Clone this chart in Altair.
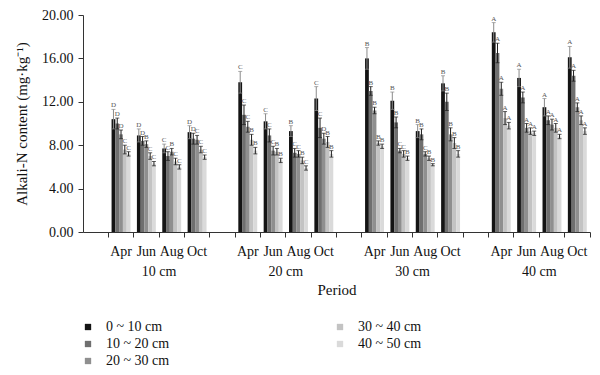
import altair as alt
import pandas as pd

groups = ["10 cm", "20 cm", "30 cm", "40 cm"]
months = ["Apr", "Jun", "Aug", "Oct"]
depths = ["0 ~ 10 cm", "10 ~ 20 cm", "20 ~ 30 cm", "30 ~ 40 cm", "40 ~ 50 cm"]
colors = ["#141414", "#6f6f6f", "#8f8f8f", "#c3c3c3", "#dadada"]

# values listed group by group (10, 20, 30, 40 cm), months Apr, Jun, Aug, Oct
vals_0_10 = [10.4, 8.9, 7.7, 9.2, 13.8, 10.2, 9.3, 12.3, 16.0, 12.1, 9.3, 13.7, 18.4, 14.2, 11.5, 16.1]
vals_10_20 = [10.0, 8.4, 7.0, 8.6, 10.8, 8.9, 7.3, 9.6, 13.0, 10.1, 9.0, 12.0, 16.5, 12.4, 10.3, 14.4]
vals_20_30 = [9.0, 8.1, 7.4, 8.5, 9.7, 7.5, 7.2, 8.6, 11.2, 7.5, 7.2, 9.0, 13.2, 9.6, 9.9, 11.5]
vals_30_40 = [7.6, 7.0, 6.5, 7.6, 8.5, 7.4, 6.6, 8.3, 8.2, 7.2, 6.8, 8.2, 10.5, 9.3, 9.6, 10.3]
vals_40_50 = [7.2, 6.3, 6.0, 6.9, 7.5, 6.6, 5.9, 7.2, 7.9, 6.8, 6.2, 7.2, 9.8, 9.1, 8.8, 9.3]

err_0_10 = [0.9, 0.6, 0.4, 0.6, 1.0, 0.7, 0.5, 1.1, 1.0, 0.8, 0.6, 0.7, 0.9, 0.8, 0.8, 1.0]
err_10_20 = [0.5, 0.4, 0.4, 0.5, 0.9, 0.6, 0.4, 0.9, 0.4, 0.5, 0.5, 0.8, 0.9, 0.5, 0.4, 0.5]
err_20_30 = [0.4, 0.3, 0.3, 0.4, 0.5, 0.4, 0.3, 0.5, 0.3, 0.2, 0.2, 0.6, 0.6, 0.4, 0.5, 0.4]
err_30_40 = [0.4, 0.3, 0.3, 0.3, 0.5, 0.3, 0.3, 0.5, 0.2, 0.3, 0.2, 0.5, 0.6, 0.3, 0.4, 0.4]
err_40_50 = [0.2, 0.2, 0.2, 0.2, 0.3, 0.2, 0.2, 0.3, 0.2, 0.2, 0.1, 0.3, 0.3, 0.2, 0.2, 0.3]

let_0_10 = ["D", "D", "C", "D", "C", "C", "B", "C", "B", "B", "B", "B", "A", "A", "A", "A"]
let_10_20 = ["D", "D", "C", "D", "C", "C", "C", "C", "B", "B", "B", "B", "A", "A", "A", "A"]
let_20_30 = ["D", "B", "B", "C", "C", "C", "C", "D", "B", "C", "C", "B", "A", "A", "A", "A"]
let_30_40 = ["C", "C", "C", "C", "B", "B", "B", "B", "B", "C", "B", "B", "A", "A", "A", "A"]
let_40_50 = ["C", "C", "C", "C", "B", "B", "C", "B", "B", "B", "B", "B", "A", "A", "A", "A"]

all_vals = [vals_0_10, vals_10_20, vals_20_30, vals_30_40, vals_40_50]
all_errs = [err_0_10, err_10_20, err_20_30, err_30_40, err_40_50]
all_lets = [let_0_10, let_10_20, let_20_30, let_30_40, let_40_50]

slots = []
for g in groups:
    slots.append(g + "|gap")
    for m in months:
        slots.append(g + "|" + m)

rows = []
for di, d in enumerate(depths):
    for gi, g in enumerate(groups):
        for mi, m in enumerate(months):
            k = gi * 4 + mi
            v = all_vals[di][k]
            e = all_errs[di][k]
            rows.append({
                "slot": g + "|" + m, "depth": d, "value": v,
                "lo": v - e, "hi": v + e, "letter": all_lets[di][k],
                "ecol": "#8a8a8a" if di == 0 else "#1e1e1e",
            })
df = pd.DataFrame(rows)
glab = pd.DataFrame({"slot": [g + "|Jun" for g in groups], "label": groups})

SERIF = "Liberation Serif"
W, H = 507, 217

xscale = alt.Scale(domain=slots, paddingInner=0, paddingOuter=0)
xoff = alt.XOffset("depth:N", scale=alt.Scale(domain=depths, paddingInner=0, paddingOuter=0.85))
yscale = alt.Scale(domain=[0, 20], nice=False)

x_enc = alt.X(
    "slot:N", scale=xscale, sort=slots,
    axis=alt.Axis(
        title="Period", bandPosition=1, labelAngle=0, labelOverlap=False,
        labelExpr="indexof(datum.value,'gap')>=0 ? '' : substring(datum.value, indexof(datum.value,'|')+1)",
        tickSize=5, labelPadding=7, titlePadding=24,
    ),
)

base = alt.Chart(df)

bars = base.mark_bar().encode(
    x=x_enc,
    xOffset=xoff,
    y=alt.Y("value:Q", scale=yscale,
            axis=alt.Axis(title="Alkali-N content (mg·kg⁻¹)", values=[0, 4, 8, 12, 16, 20],
                          format=".2f", tickSize=5, labelPadding=5, titlePadding=12, grid=False)),
    color=alt.Color("depth:N", scale=alt.Scale(domain=depths, range=colors),
                    legend=alt.Legend(title=None, orient="none", legendX=-2, legendY=305,
                                      columns=2, columnPadding=163, rowPadding=3,
                                      symbolType="square", symbolSize=40, symbolStrokeWidth=0,
                                      labelFont=SERIF, labelFontSize=14, labelOffset=11,
                                      labelColor="#111", padding=0, gridAlign="each")),
)

rules = base.mark_rule(strokeWidth=1).encode(
    x=alt.X("slot:N", scale=xscale, sort=slots),
    xOffset=xoff,
    y=alt.Y("lo:Q", scale=yscale),
    y2="hi:Q",
    stroke=alt.Stroke("ecol:N", scale=None),
)

caps_hi = base.mark_tick(thickness=1, size=4).encode(
    x=alt.X("slot:N", scale=xscale, sort=slots),
    xOffset=xoff,
    y=alt.Y("hi:Q", scale=yscale),
    fill=alt.Fill("ecol:N", scale=None),
)
caps_lo = base.mark_tick(thickness=1, size=4).encode(
    x=alt.X("slot:N", scale=xscale, sort=slots),
    xOffset=xoff,
    y=alt.Y("lo:Q", scale=yscale),
    fill=alt.Fill("ecol:N", scale=None),
)

letters = base.mark_text(font=SERIF, fontSize=7, color="#555", baseline="bottom", dy=-1).encode(
    x=alt.X("slot:N", scale=xscale, sort=slots),
    xOffset=xoff,
    y=alt.Y("hi:Q", scale=yscale),
    text="letter:N",
)

group_labels = alt.Chart(glab).mark_text(font=SERIF, fontSize=14, color="#111", baseline="middle").encode(
    x=alt.X("slot:N", scale=xscale, sort=slots, bandPosition=1),
    y=alt.value(H + 40),
    text="label:N",
)

chart = alt.layer(bars, rules, caps_hi, caps_lo, letters, group_labels).properties(
    width=W, height=H,
    autosize=alt.AutoSizeParams(type="none"),
    padding={"left": 75, "top": 7, "right": 2, "bottom": 135},
).configure_view(stroke=None).configure_axis(
    labelFont=SERIF, titleFont=SERIF, labelFontSize=14, titleFontSize=15,
    titleFontWeight="normal", labelColor="#111", titleColor="#111",
    domainColor="#333", tickColor="#333",
)

chart.save("out.html", embed_options={"renderer": "svg", "actions": False})
